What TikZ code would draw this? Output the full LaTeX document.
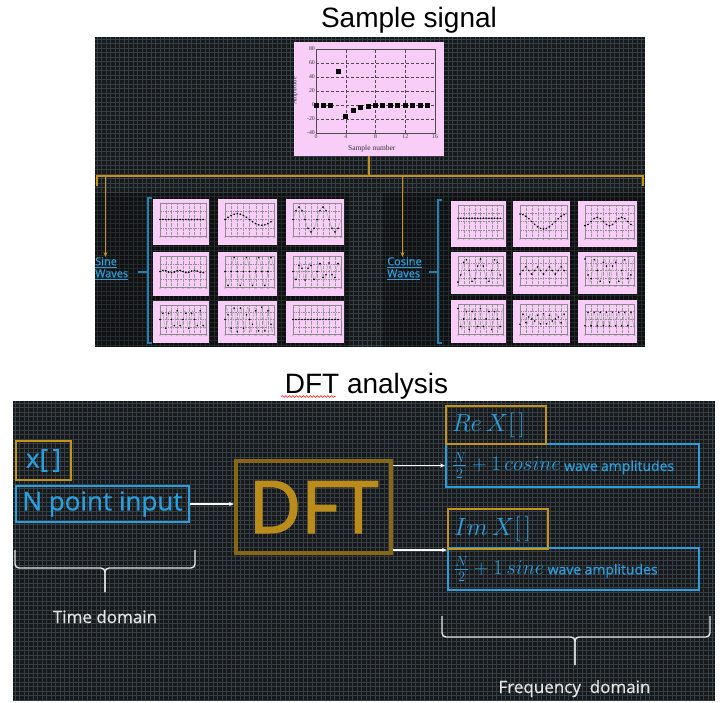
\documentclass[tikz,border=0pt]{standalone}
\usepackage{fontspec}
\usepackage{amsmath}
\usetikzlibrary{arrows.meta}
\usetikzlibrary{decorations.pathmorphing}

\newfontfamily\titlefont{Liberation Sans}
\newfontfamily\slidefont[FakeBold=0.6]{Open Sans}
\newfontfamily\dftfont[FakeBold=2.2]{Open Sans}
\newfontfamily\chartfont{Liberation Serif}

\definecolor{panelbg}{RGB}{22,25,28}
\definecolor{gridline}{RGB}{56,63,68}
\definecolor{slideblue}{RGB}{38,160,222}
\definecolor{brkblue}{RGB}{30,130,185}
\definecolor{slidegold}{RGB}{196,148,22}
\definecolor{dftgold}{RGB}{135,102,22}
\definecolor{dfttext}{RGB}{186,140,28}
\definecolor{chartpink}{RGB}{248,206,248}
\definecolor{textwhite}{RGB}{228,228,228}

\tikzset{
  gridln/.style={draw=gridline, line width=0.55},
  goldbox/.style={draw=slidegold, line width=2, inner sep=0},
  bluebox/.style={draw=slideblue, line width=2, inner sep=0},
  bus/.style={draw=slidegold, line width=1.5},
  whitearrow/.style={draw=white, line width=1.4, ->},
  dombrace/.style={draw=textwhite, line width=1.4, rounded corners=4},
  bluebrk/.style={draw=brkblue, line width=1.2},
  wavelbl/.style={text=slideblue, align=left, inner sep=0,
    font=\slidefont\fontsize{11}{12}\selectfont},
  domlbl/.style={text=textwhite, anchor=base,
    font=\slidefont\fontsize{17}{19}\selectfont},
  chartdash/.style={draw=black!70, line width=0.35, dash pattern=on 3pt off 2pt},
  ticklbl/.style={text=black!80, inner sep=1pt,
    font=\chartfont\fontsize{5.8}{6}\selectfont},
  datasq/.style={fill=black, minimum size=5pt, inner sep=0},
  minivert/.style={draw=black!40, line width=0.25, dash pattern=on 0.5pt off 0.8pt},
  minihor/.style={draw=black!45, line width=0.25, dash pattern=on 1.5pt off 1pt},
  miniframe/.style={draw=black!45, line width=0.3},
  minicurve/.style={draw=black!35, line width=0.4},
  minilbl/.style={below, inner sep=0.6pt, text=black!65,
    font=\chartfont\fontsize{2.6}{3}\selectfont}
}

% small wave chart: left, top, width, height, sin/cos, k, amplitude
\newcommand{\wavechart}[7]{%
  \begin{scope}[shift={(#1,#2)}]
    \fill[chartpink] (0,0) rectangle (#3,#4);
    \pgfmathsetmacro{\wsx}{(#3-10)/16}
    \pgfmathsetmacro{\wsy}{(#4-13)/2}
    \begin{scope}[shift={(7,{(#4-5)/2})}, x=\wsx pt, y=\wsy pt]
      \foreach \n in {2,4,...,14} \draw[minivert] (\n,-1) -- (\n,1);
      \foreach \v in {-0.5,0,0.5} \draw[minihor] (0,\v) -- (16,\v);
      \draw[miniframe] (0,-1) rectangle (16,1);
      \draw[minicurve] plot[domain=0:16,samples=121] (\x,{#7*#5(22.5*#6*\x)});
      \foreach \n in {0,...,15}
        \fill (\n,{#7*#5(22.5*#6*\n)}) circle (0.9pt);
      \foreach \n in {0,2,...,16}
        \node[minilbl] (lb\n) at (\n,-1) {\n};
    \end{scope}
  \end{scope}}

\begin{document}
\begin{tikzpicture}[x=1pt, y=-1pt, >={Stealth[length=5pt,width=4pt]}]
\useasboundingbox (0,0) rectangle (725,702);
\fill[white] (0,0) rectangle (725,702);

%% ---------- sample signal ----------
\node[anchor=base, font=\titlefont\fontsize{28}{30}\selectfont] (toptitle) at (409,27) {Sample signal};
\fill[panelbg] (95,37) rectangle (645,347);
\foreach \gx in {97,101.5,...,645} \draw[gridln] (\gx,37) -- (\gx,347);
\foreach \gy in {39,43.5,...,347} \draw[gridln] (95,\gy) -- (645,\gy);
\fill[black, opacity=0.35] (95,193) rectangle (350,347);
\fill[black, opacity=0.35] (383,193) rectangle (645,347);

\node[fill=chartpink, minimum width=150, minimum height=114, inner sep=0] (sigplot) at (369,99) {};
\begin{scope}[shift={(316,105)}, x=7.44pt, y=0.7pt]
  \foreach \n in {4,8,12} \draw[chartdash] (\n,-40) -- (\n,80);
  \foreach \v in {-20,0,...,60} \draw[chartdash] (0,\v) -- (16,\v);
  \draw[black!70, line width=0.4] (0,-40) rectangle (16,80);
  \foreach \v in {-40,-20,...,80} \node[ticklbl, left] (yt\v) at (0,\v) {\v};
  \foreach \n in {0,4,...,16} \node[ticklbl, below] (xt\n) at (\n,-40) {\n};
  \node[ticklbl, font=\chartfont\fontsize{7.5}{8}\selectfont] (xname) at (7.5,-62) {Sample number};
  \node[ticklbl, rotate=90, font=\chartfont\fontsize{6.5}{7}\selectfont] (yname) at (-2.85,20) {Amplitude};
  \foreach \n/\v in {0/0,1/0,2/0,3/48,4/-16,5/-8,6/-4,7/-2,8/-1,9/-0.5,10/0,11/0,12/0,13/0,14/0,15/0}
    \node[datasq] (s\n) at (\n,\v) {};
\end{scope}

\coordinate (busL) at (97,176);
\coordinate (busR) at (643,176);
\coordinate (sinedrop) at (105.5,176);
\coordinate (cosdrop) at (402.5,176);
\draw[bus] (sigplot.south) -- (sigplot.south |- busL);
\draw[bus] (busL) ++(0,10) -- (busL) -- (busR) -- ++(0,10);

\node[wavelbl, anchor=north west] (sinelbl) at (95,257) {\underline{Sine}\\\underline{Waves}};
\node[wavelbl, anchor=north west] (coslbl) at (387,257) {\underline{Cosine}\\\underline{Waves}};
\draw[bus, ->] (sinedrop) -- (sinedrop |- sinelbl.north);
\draw[bus, ->] (cosdrop) -- (cosdrop |- coslbl.north);

\draw[bluebrk] (152,198) -- (148,198) -- (148,343) -- (152,343);
\draw[bluebrk] (148,272) -- (138,272);
\draw[bluebrk] (442,200) -- (438,200) -- (438,343) -- (442,343);
\draw[bluebrk] (438,272) -- (429,272);

% sine waves
\foreach \cx/\cy/\cw/\ch/\fn/\k/\amp in {
  153/199/56/46/sin/0/0, 218/199/59/46/sin/1/0.35, 286/199/58/46/sin/2/0.75,
  153/252/56/44/sin/3/0.08, 218/252/59/44/sin/4/-0.9, 286/252/58/44/sin/5/-0.55,
  153/301/56/42/sin/6/0.6, 218/301/59/42/sin/7/0.85, 286/301/58/42/sin/8/0}
  \wavechart{\cx}{\cy}{\cw}{\ch}{\fn}{\k}{\amp};
% cosine waves
\foreach \cx/\cy/\cw/\ch/\fn/\k/\amp in {
  451/201/55/46/cos/0/0.2, 513/201/57/46/cos/1/0.45, 578/201/59/46/cos/2/-0.25,
  451/252/55/42/cos/3/-0.8, 513/252/57/42/cos/4/-0.25, 578/252/59/42/cos/5/0.8,
  451/300/55/43/cos/6/0.7, 513/300/57/43/cos/7/-0.35, 578/300/59/43/cos/8/-0.45}
  \wavechart{\cx}{\cy}{\cw}{\ch}{\fn}{\k}{\amp};

%% ---------- DFT analysis ----------
\node[anchor=base, font=\titlefont\fontsize{28}{30}\selectfont] (dfttitle) at (366.5,393) {DFT analysis};
\draw[red, line width=0.6, decorate, decoration={snake, amplitude=0.9, segment length=3.5}]
  ([yshift=-3.5]dfttitle.base west) -- ++(54,0);
\fill[panelbg] (13,401) rectangle (715,700);
\foreach \gx in {15,19.5,...,715} \draw[gridln] (\gx,401) -- (\gx,700);
\foreach \gy in {403,407.5,...,700} \draw[gridln] (13,\gy) -- (715,\gy);

\node[goldbox, anchor=north west, minimum width=55, minimum height=39, text=slideblue,
  font=\slidefont\fontsize{26}{28}\selectfont] (xin) at (15,440) {x[\,]};
\node[bluebox, anchor=north west, minimum width=173, minimum height=36, text=slideblue,
  font=\slidefont\fontsize{26}{28}\selectfont] (npoint) at (15,485) {N point input};
\node[draw=dftgold, line width=4, anchor=north west, minimum width=155, minimum height=92,
  inner sep=0, text=dfttext, font=\dftfont\fontsize{72}{72}\selectfont] (dft) at (234,459) {DFT};

\node[bluebox, anchor=north west, minimum height=43, inner xsep=6, text width=241, align=left,
  text=slideblue] (cosamp) at (445,443)
  {\fontsize{22}{24}\selectfont$\frac{N}{2}+1\,cosine$ {\slidefont\fontsize{14}{16}\selectfont wave amplitudes}};
\node[goldbox, anchor=north west, minimum height=38, inner xsep=6, text width=88, align=left,
  text=slideblue, font=\fontsize{24}{26}\selectfont] (rex) at (445,405) {$Re\,X[\,]$};
\node[bluebox, anchor=north west, minimum height=42, inner xsep=6, text width=239, align=left,
  text=slideblue] (sinamp) at (447,547)
  {\fontsize{22}{24}\selectfont$\frac{N}{2}+1\,sine$ {\slidefont\fontsize{14}{16}\selectfont wave amplitudes}};
\node[goldbox, anchor=north west, minimum height=40, inner xsep=6, text width=88, align=left,
  text=slideblue, font=\fontsize{24}{26}\selectfont] (imx) at (447,508) {$Im\,X[\,]$};

\draw[whitearrow] (npoint.east) -- (npoint.east -| dft.west);
\draw[whitearrow] (dft.east |- cosamp.west) -- (cosamp.west);
\draw[whitearrow] (dft.east |- imx.south) -- (imx.south west);

\draw[dombrace] (15,550) -- (15,568) -- (105,568) -- (105,592);
\draw[dombrace] (195,550) -- (195,568) -- (105,568) -- (105,592);
\node[domlbl] (timelbl) at (105,623) {Time domain};
\draw[dombrace] (442,616) -- (442,637) -- (575,637) -- (575,665);
\draw[dombrace] (710,616) -- (710,637) -- (575,637) -- (575,665);
\node[domlbl] (freqlbl) at (574.5,693) {Frequency\ \ domain};
\end{tikzpicture}
\end{document}
